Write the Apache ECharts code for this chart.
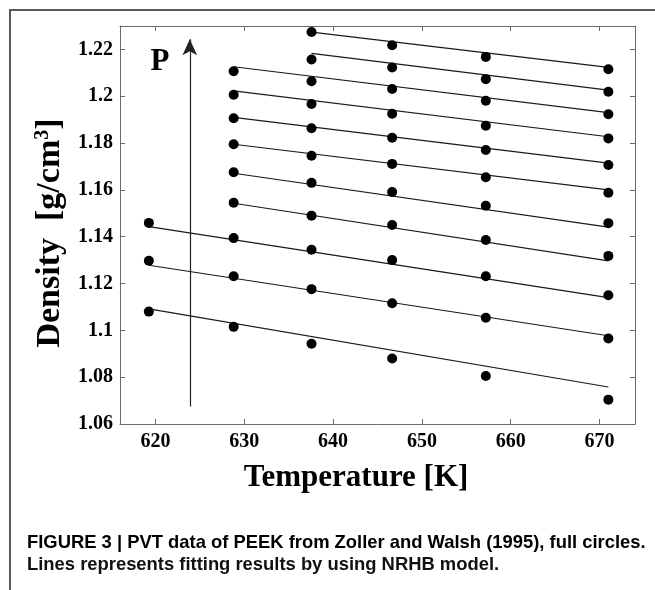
<!DOCTYPE html>
<html>
<head>
<meta charset="utf-8">
<script src="https://cdn.jsdelivr.net/npm/echarts@6/dist/echarts.min.js"></script>
<style>html,body{margin:0;padding:0;background:#fff;}#c{width:655px;height:590px;}</style>
</head>
<body>
<div id="c"></div>
<script>
// Temperatures of the measured isobars [K]
const temperatures = [619.25, 628.8, 637.57, 646.65, 657.2, 671.0];
// Measured densities [g/cm3], one array per pressure level (low -> high P), null = not measured
const level1 = [1.1080, 1.1015, 1.0943, 1.0880, 1.0805, 1.0704];
const level2 = [1.1297, 1.1231, 1.1176, 1.1116, 1.1054, 1.0965];
const level3 = [1.1459, 1.1394, 1.1344, 1.1300, 1.1231, 1.1150];
const level4 = [null, 1.1545, 1.1490, 1.1450, 1.1386, 1.1318];
const level5 = [null, 1.1675, 1.1630, 1.1591, 1.1532, 1.1458];
const level6 = [null, 1.1795, 1.1746, 1.1711, 1.1654, 1.1588];
const level7 = [null, 1.1906, 1.1863, 1.1823, 1.1770, 1.1706];
const level8 = [null, 1.2006, 1.1967, 1.1925, 1.1874, 1.1820];
const level9 = [null, 1.2107, 1.2064, 1.2031, 1.1981, 1.1923];
const level10 = [null, null, 1.2157, 1.2123, 1.2073, 1.2019];
const level11 = [null, null, 1.2274, 1.2218, 1.2168, 1.2115];
// NRHB model fit lines: density at first measured temperature and at last temperature
const fitStart = [1.1092, 1.1278, 1.1443, 1.1543, 1.1671, 1.1795, 1.1910, 1.2023, 1.2126, 1.2183, 1.2274];
const fitEnd   = [1.0758, 1.0977, 1.1140, 1.1297, 1.1441, 1.1600, 1.1714, 1.1827, 1.1930, 1.2026, 1.2123];
// Tick labels
const xTicks = [620, 630, 640, 650, 660, 670];
const yTicks = [1.06, 1.08, 1.1, 1.12, 1.14, 1.16, 1.18, 1.2, 1.22];
// Pressure arrow (data coordinates)
const arrowT = 623.86;
const arrowFrom = 1.0675;
const arrowTo = 1.2243;

const levels = [level1, level2, level3, level4, level5, level6, level7, level8, level9, level10, level11];

const serif = "'Liberation Serif', 'Times New Roman', serif";
const sansN = "'Liberation Sans Narrow', 'Arial Narrow', 'Liberation Sans', sans-serif";
const axisColor = '#6a6a6a';

const series = [];
levels.forEach((lv, i) => {
  const firstIdx = lv.findIndex(v => v !== null);
  series.push({
    type: 'line',
    name: 'fit' + (i + 1),
    data: [[temperatures[firstIdx], fitStart[i]], [temperatures[temperatures.length - 1], fitEnd[i]]],
    showSymbol: false,
    symbol: 'none',
    lineStyle: { color: '#1a1a1a', width: 1.2 },
    silent: true,
    z: 2
  });
});
const pts = [];
levels.forEach(lv => lv.forEach((v, j) => { if (v !== null) pts.push([temperatures[j], v]); }));
series.push({
  type: 'scatter',
  data: pts,
  symbol: 'circle',
  symbolSize: 10,
  itemStyle: { color: '#000', opacity: 1 },
  z: 3,
  silent: true
});
series.push({
  type: 'line',
  data: [],
  silent: true,
  markLine: {
    silent: true,
    symbol: ['none', 'arrow'],
    symbolSize: [11, 16],
    label: { show: false },
    lineStyle: { color: '#222', width: 1.2, type: 'solid', opacity: 1 },
    itemStyle: { color: '#222', opacity: 1 },
    data: [[{ coord: [arrowT, arrowFrom] }, { coord: [arrowT, arrowTo] }]]
  }
});

const tickStyle = { show: true, inside: true, length: 5, lineStyle: { color: axisColor, width: 1 } };
const fmt = v => String(+(+v).toFixed(2));

const option = {
  animation: false,
  backgroundColor: '#fff',
  grid: { left: 120, right: 20, top: 26, bottom: 166, show: false },
  xAxis: [
    {
      type: 'value', min: 616, max: 674, position: 'bottom',
      axisLine: { show: true, lineStyle: { color: axisColor, width: 1 } },
      axisTick: Object.assign({ customValues: xTicks }, tickStyle),
      axisLabel: { customValues: xTicks, margin: 8, color: '#000', fontFamily: serif, fontWeight: 'bold', fontSize: 20, formatter: fmt },
      splitLine: { show: false }
    },
    {
      type: 'value', min: 616, max: 674, position: 'top',
      axisLine: { show: true, lineStyle: { color: axisColor, width: 1 } },
      axisTick: Object.assign({ customValues: xTicks }, tickStyle),
      axisLabel: { show: false },
      splitLine: { show: false }
    }
  ],
  yAxis: [
    {
      type: 'value', min: 1.06, max: 1.23, position: 'left',
      axisLine: { show: true, lineStyle: { color: axisColor, width: 1 } },
      axisTick: Object.assign({ customValues: yTicks }, tickStyle),
      axisLabel: { customValues: yTicks, margin: 7, color: '#000', fontFamily: serif, fontWeight: 'bold', fontSize: 20, formatter: fmt },
      splitLine: { show: false }
    },
    {
      type: 'value', min: 1.06, max: 1.23, position: 'right',
      axisLine: { show: true, lineStyle: { color: axisColor, width: 1 } },
      axisTick: Object.assign({ customValues: yTicks }, tickStyle),
      axisLabel: { show: false },
      splitLine: { show: false }
    }
  ],
  series: series,
  graphic: [
    { type: 'rect', shape: { x: 10, y: 10, width: 800, height: 800 }, style: { fill: null, stroke: '#5a5a5a', lineWidth: 2 }, silent: true },
    { type: 'text', x: 160, y: 62, style: { text: 'P', font: "bold 31px " + serif, fill: '#000', align: 'center', verticalAlign: 'middle' } },
    { type: 'text', x: 356, y: 478, style: { text: 'Temperature [K]', font: "bold 31px " + serif, fill: '#000', align: 'center', verticalAlign: 'middle' } },
    {
      type: 'text', x: 50, y: 233, rotation: Math.PI / 2,
      style: {
        text: '{a|Density  [g/cm}{s|3}{a|]}',
        align: 'center', verticalAlign: 'middle',
        rich: {
          a: { fontFamily: serif, fontWeight: 'bold', fontSize: 34, color: '#000' },
          s: { fontFamily: serif, fontWeight: 'bold', fontSize: 20, color: '#000', verticalAlign: 'top', padding: [0, 0, 14, 0] }
        }
      }
    },
    {
      type: 'text', x: 27, y: 543,
      style: {
        text: '{b|FIGURE 3 | PVT data of PEEK from }{g|Zoller and Walsh (1995)}{b|, full circles.}',
        verticalAlign: 'middle', align: 'left',
        rich: {
          b: { fontFamily: sansN, fontWeight: 'bold', fontSize: 18.4, color: '#111' },
          g: { fontFamily: sansN, fontWeight: 'bold', fontSize: 18.4, color: '#7a7a7a' }
        }
      }
    },
    {
      type: 'text', x: 27, y: 565,
      style: {
        text: 'Lines represents fitting results by using NRHB model.',
        verticalAlign: 'middle', align: 'left',
        font: "bold 18.4px " + sansN, fill: '#111'
      }
    }
  ]
};
const chart = echarts.init(document.getElementById('c'), null, { renderer: 'canvas' });
chart.setOption(option);
</script>
</body>
</html>
